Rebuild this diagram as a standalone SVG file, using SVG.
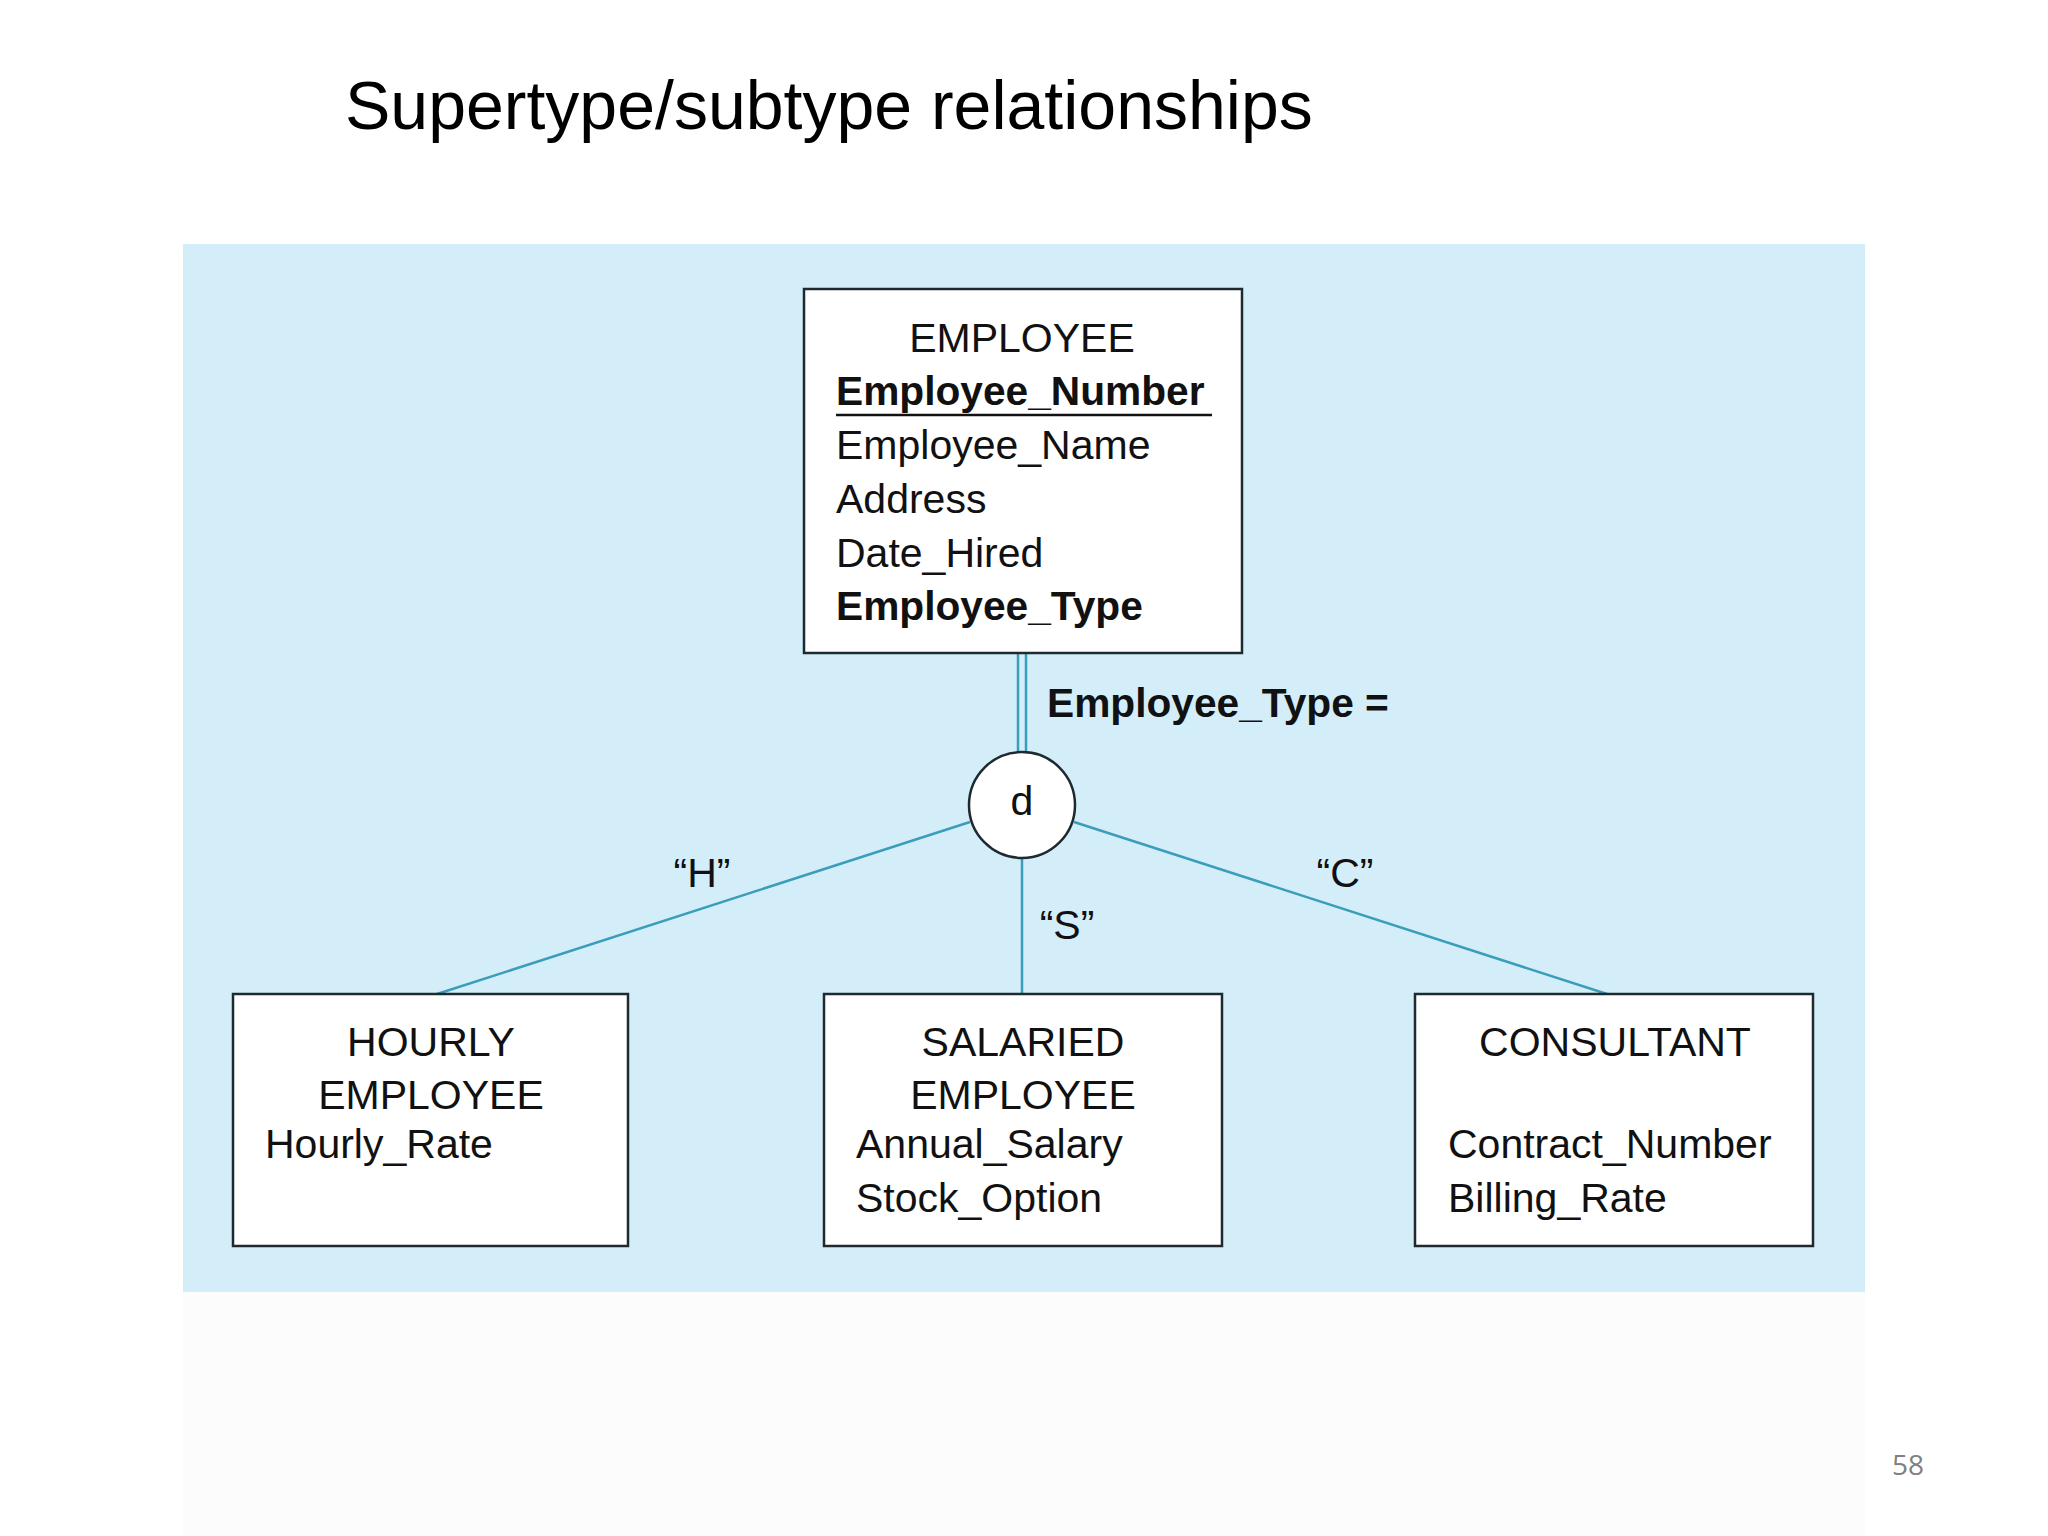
<svg xmlns="http://www.w3.org/2000/svg" width="2048" height="1536" viewBox="0 0 2048 1536">
  <style>
    .box { fill: #ffffff; stroke: #1e2a30; stroke-width: 2.5; }
    .t { font-family: "Liberation Sans", Arial, Helvetica, sans-serif; font-size: 41px; fill: #111111; }
    .b { font-weight: bold; font-size: 40.7px; }
    .mid { text-anchor: middle; }
    .conn { stroke: #3a9dba; stroke-width: 2.5; fill: none; }
  </style>
  <rect x="0" y="0" width="2048" height="1536" fill="#ffffff"/>
  <rect x="183" y="1292" width="1682" height="244" fill="#fcfcfc"/>
  <rect x="183" y="244" width="1682" height="1048" fill="#d4eef9"/>
  <text x="345" y="129" font-family="'Liberation Sans', Arial, Helvetica, sans-serif" font-size="68" fill="#000000">Supertype/subtype relationships</text>
  <text x="1924" y="1475" font-family="'Open Sans', 'Liberation Sans', sans-serif" font-size="28" fill="#808080" text-anchor="end">58</text>

  <g id="connectors">
    <line class="conn" x1="1018" y1="653" x2="1018" y2="753"/>
    <line class="conn" x1="1026" y1="653" x2="1026" y2="753"/>
    <line class="conn" x1="970" y1="822" x2="437" y2="994"/>
    <line class="conn" x1="1022" y1="858" x2="1022" y2="994"/>
    <line class="conn" x1="1074" y1="822" x2="1607" y2="994"/>
    <text class="t b" x="1047" y="717">Employee_Type =</text>
    <text class="t mid" x="702" y="887" font-size="40">“H”</text>
    <text class="t mid" x="1067" y="939" font-size="40">“S”</text>
    <text class="t mid" x="1345" y="887" font-size="40">“C”</text>
  </g>

  <g id="employee">
    <rect class="box" x="804" y="289" width="438" height="364"/>
    <text class="t mid" x="1022" y="352">EMPLOYEE</text>
    <text class="t b" x="836" y="405">Employee_Number</text>
    <line x1="836" y1="415" x2="1212" y2="415" stroke="#111111" stroke-width="2.5"/>
    <text class="t" x="836" y="459">Employee_Name</text>
    <text class="t" x="836" y="513">Address</text>
    <text class="t" x="836" y="567">Date_Hired</text>
    <text class="t b" x="836" y="620">Employee_Type</text>
  </g>

  <g id="disjoint">
    <circle cx="1022" cy="805" r="53" fill="#ffffff" stroke="#1e2a30" stroke-width="2.5"/>
    <text class="t mid" x="1022" y="815" font-size="47">d</text>
  </g>

  <g id="hourly">
    <rect class="box" x="233" y="994" width="395" height="252"/>
    <text class="t mid" x="431" y="1056">HOURLY</text>
    <text class="t mid" x="431" y="1109">EMPLOYEE</text>
    <text class="t" x="265" y="1158">Hourly_Rate</text>
  </g>

  <g id="salaried">
    <rect class="box" x="824" y="994" width="398" height="252"/>
    <text class="t mid" x="1023" y="1056">SALARIED</text>
    <text class="t mid" x="1023" y="1109">EMPLOYEE</text>
    <text class="t" x="856" y="1158">Annual_Salary</text>
    <text class="t" x="856" y="1212">Stock_Option</text>
  </g>

  <g id="consultant">
    <rect class="box" x="1415" y="994" width="398" height="252"/>
    <text class="t mid" x="1615" y="1056">CONSULTANT</text>
    <text class="t" x="1448" y="1158">Contract_Number</text>
    <text class="t" x="1448" y="1212">Billing_Rate</text>
  </g>
</svg>
